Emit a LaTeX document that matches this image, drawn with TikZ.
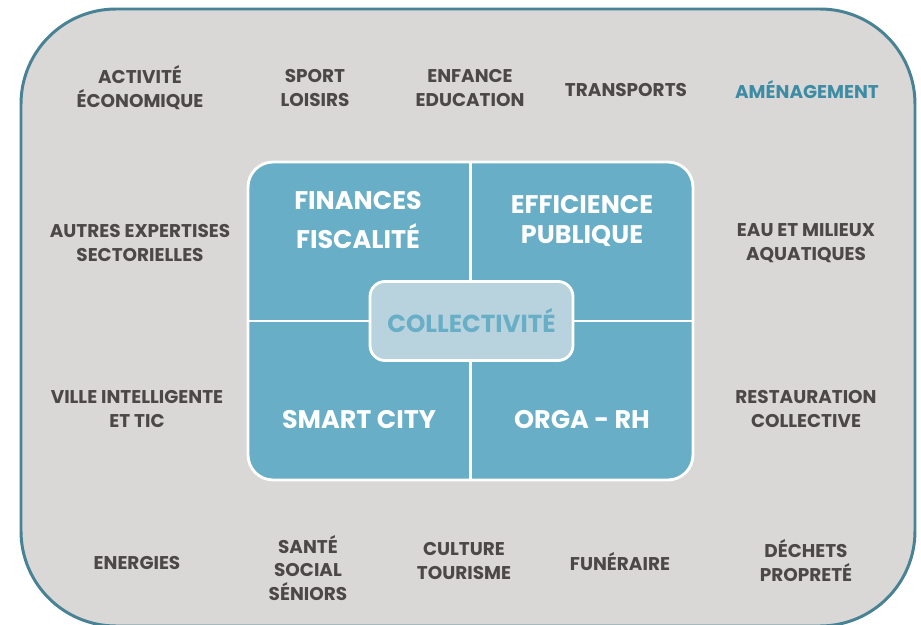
\documentclass[tikz,border=0pt]{standalone}
\usepackage{fontspec}
\setmainfont{Poppins}
\definecolor{framegrey}{HTML}{D9D8D7}
\definecolor{frameblue}{HTML}{4A8295}
\definecolor{poleblue}{HTML}{68AEC6}
\definecolor{centerblue}{HTML}{B8D3DE}
\definecolor{textgrey}{HTML}{4D4848}
\definecolor{amenblue}{HTML}{3E8CA4}

\begin{document}
\begin{tikzpicture}[x=0.02cm, y=-0.02cm]
        \tikzstyle{sector} = [text=textgrey, align=center, font=\bfseries\fontsize{10.5}{13.6}\selectfont]
        \tikzstyle{polebox} = [text=white, align=center, font=\bfseries\fontsize{14.5}{17}\selectfont]
        \useasboundingbox (0,0) rectangle (921,625);
        % Draw the big grey frame round all the sectors
        \draw[draw=frameblue, fill=framegrey, line width=1.7pt, rounded corners=1.9cm] (21,9) rectangle (915,626);
        % Draw the four blue poles as one box split in four
        \node[fill=poleblue, draw=white, line width=1.6pt, rounded corners=0.5cm, minimum width=8.9cm, minimum height=6.36cm] (grid) at (470.5,321) {};
        \draw[white, line width=1.6pt] (grid.north) -- (grid.south);
        \draw[white, line width=1.6pt] (grid.west) -- (grid.east);
        \node[polebox, font=\bfseries\fontsize{14.5}{22.7}\selectfont] (finances) at (358,220) {FINANCES\\FISCALITÉ};
        \node[polebox] (efficience) at (582,221) {EFFICIENCE\\PUBLIQUE};
        \node[polebox] (smartcity) at (359,420) {SMART CITY};
        \node[polebox] (orgarh) at (582,420) {ORGA - RH};
        % Draw the collectivity in the middle
        \node[fill=centerblue, draw=white, line width=1.6pt, rounded corners=0.3cm, minimum width=4.06cm, minimum height=1.58cm, text=poleblue, font=\bfseries\fontsize{14}{17}\selectfont] (collectivite) at (471.5,321) {COLLECTIVITÉ};
        % Top row of sectors
        \node[sector] (activite) at (140,88) {ACTIVITÉ\\ÉCONOMIQUE};
        \node[sector] (sport) at (315,88) {SPORT\\LOISIRS};
        \node[sector] (enfance) at (470,88) {ENFANCE\\EDUCATION};
        \node[sector] (transports) at (626,90) {TRANSPORTS};
        \node[sector, text=amenblue] (amenagement) at (807,90) {AMÉNAGEMENT};
        % Left and right columns of sectors
        \node[sector] (autres) at (140,243) {AUTRES EXPERTISES\\SECTORIELLES};
        \node[sector] (ville) at (137,409) {VILLE INTELLIGENTE\\ET TIC};
        \node[sector] (eau) at (806,243) {EAU ET MILIEUX\\AQUATIQUES};
        \node[sector] (restauration) at (806,409) {RESTAURATION\\COLLECTIVE};
        % Bottom row of sectors
        \node[sector] (energies) at (137,563) {ENERGIES};
        \node[sector] (sante) at (308,568) {SANTÉ\\SOCIAL\\SÉNIORS};
        \node[sector] (culture) at (464,561) {CULTURE\\TOURISME};
        \node[sector] (funeraire) at (620,562) {FUNÉRAIRE};
        \node[sector] (dechets) at (806,561) {DÉCHETS\\PROPRETÉ};
\end{tikzpicture}
\end{document}
